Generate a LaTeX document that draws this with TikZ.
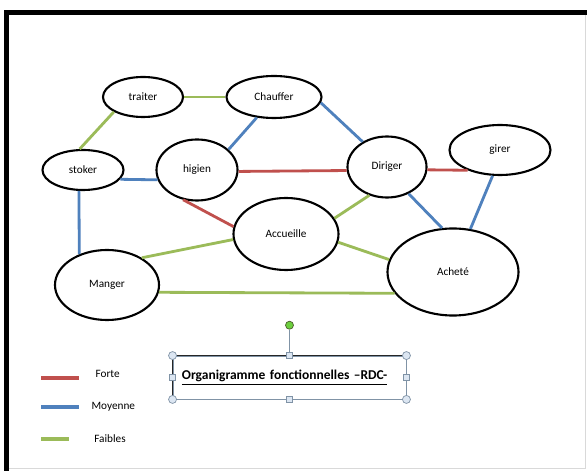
\documentclass[tikz,border=0pt]{standalone}
\usepackage{fontspec}
\setmainfont{Carlito}
\usetikzlibrary{shapes,positioning,calc}
\definecolor{forteC}{HTML}{C0504D}
\definecolor{moyC}{HTML}{4F81BD}
\definecolor{faibC}{HTML}{9BBB59}
\definecolor{handleC}{HTML}{DCE6F2}
\definecolor{handleD}{HTML}{8093A6}
\tikzset{
    ell/.style={draw,ellipse,line width=1.5pt,inner sep=0pt,align=center,font=\fontsize{8}{9.6}\selectfont},
    forte/.style={-,line width=2pt,forteC},
    moyenne/.style={-,line width=2pt,moyC},
    faible/.style={-,line width=2pt,faibC},
    swatch/.style={fill,inner sep=0pt,minimum height=0.1cm},
    leg/.style={inner sep=0pt,font=\fontsize{8}{9.6}\selectfont},
    hcirc/.style={draw=handleD,fill=handleC,circle,inner sep=0pt,minimum size=0.2cm,line width=0.5pt},
    hsq/.style={draw=handleD,fill=handleC,rectangle,inner sep=0pt,minimum size=0.15cm,line width=0.5pt},
}
\begin{document}
\begin{tikzpicture}[x=0.025cm,y=-0.025cm]
    \fill[white] (0,0) rectangle (587,471);
    \useasboundingbox (0,0) rectangle (587,471);
    % cadre
    \fill[black] (4,10) rectangle (587,15);
    \fill[black] (4,10) rectangle (9,471);
    \draw[black!15,line width=0.5pt] (585,15) -- (585,468) -- (9,468);

    % fonctions
    \node[ell,minimum width=2cm,minimum height=1cm] (traiter) at (143,97) {traiter};
    \node[ell,minimum width=2.375cm,minimum height=1.05cm] (Chauffer) at (274,97) {Chauffer};
    \node[ell,minimum width=2.025cm,minimum height=1cm] (stoker) at (83,170) {stoker};
    \node[ell,minimum width=2.025cm,minimum height=1.525cm] (higien) at (197,170) {higien};
    \node[ell,minimum width=1.975cm,minimum height=1.525cm] (Diriger) at (387,167) {Diriger};
    \node[ell,minimum width=2.525cm,minimum height=1.25cm] (girer) at (500,150) {girer};
    \node[ell,minimum width=2.625cm,minimum height=1.8cm] (Accueille) at (286,234) {Accueille};
    \node[ell,minimum width=3.275cm,minimum height=2.175cm] (Achete) at (453,272) {Acheté};
    \node[ell,minimum width=2.6cm,minimum height=1.75cm] (Manger) at (107,285) {Manger};

    % liaisons
    \draw[faible] (traiter.east) -- (Chauffer.west);
    \draw[faible] (traiter.207) -- (stoker.99);
    \draw[moyenne] (Chauffer.230) -- (higien.33);
    \draw[moyenne] (Chauffer.353) -- (Diriger.134);
    \draw[moyenne] (stoker.346) -- (higien.194);
    \draw[forte] (higien.358) -- (Diriger.185);
    \draw[forte] (Diriger.356) -- (girer.212);
    \draw[forte] (higien.245) -- (Accueille.172);
    \draw[faible] (Diriger.238) -- (Accueille.18);
    \draw[moyenne] (Diriger.309) -- (Achete.104);
    \draw[moyenne] (girer.254) -- (Achete.68);
    \draw[moyenne] (stoker.259) -- (Manger.132);
    \draw[faible] (Accueille.186) -- (Manger.38);
    \draw[faible] (Accueille.351) -- (Achete.169);
    \draw[faible] (Manger.352) -- (Achete.200);

    % legende
    \node[swatch,fill=forteC,minimum width=0.95cm] (swF) at (60,378) {};
    \node[swatch,fill=moyC,minimum width=0.95cm] (swM) at (60,407) {};
    \node[swatch,fill=faibC,minimum width=0.7cm] (swB) at (55,439) {};
    \node[leg,right=0.4cm of swF,yshift=0.1cm] (lF) {Forte};
    \node[leg,right=0.3cm of swM] (lM) {Moyenne};
    \node[leg,right=0.62cm of swB] (lB) {Faibles};

    % titre
    \node[draw=handleD,line width=0.6pt,minimum width=5.825cm,minimum height=1.075cm,
          text width=5.375cm,inner xsep=0.225cm,align=left,
          font=\bfseries\fontsize{9.6}{11}\selectfont] (titre) at (289.5,377.5)
          {\underline{Organigramme fonctionnelles --RDC-}\\[3pt]};
    \draw[black!85,line width=1.2pt] (titre.south west) -- (titre.north west) -- (titre.north east);
    \node[hcirc,fill=faibC!70!green,draw=faibC!50!black,above=0.65cm of titre.north] (rot) {};
    \draw[handleD,line width=0.6pt] (rot) -- (titre.north);
    \foreach \a/\n in {north west/nw,north east/ne,south west/sw,south east/se}
        \node[hcirc] (h\n) at (titre.\a) {};
    \foreach \a/\n in {north/n,south/s,east/e,west/w}
        \node[hsq] (q\n) at (titre.\a) {};
\end{tikzpicture}
\end{document}
